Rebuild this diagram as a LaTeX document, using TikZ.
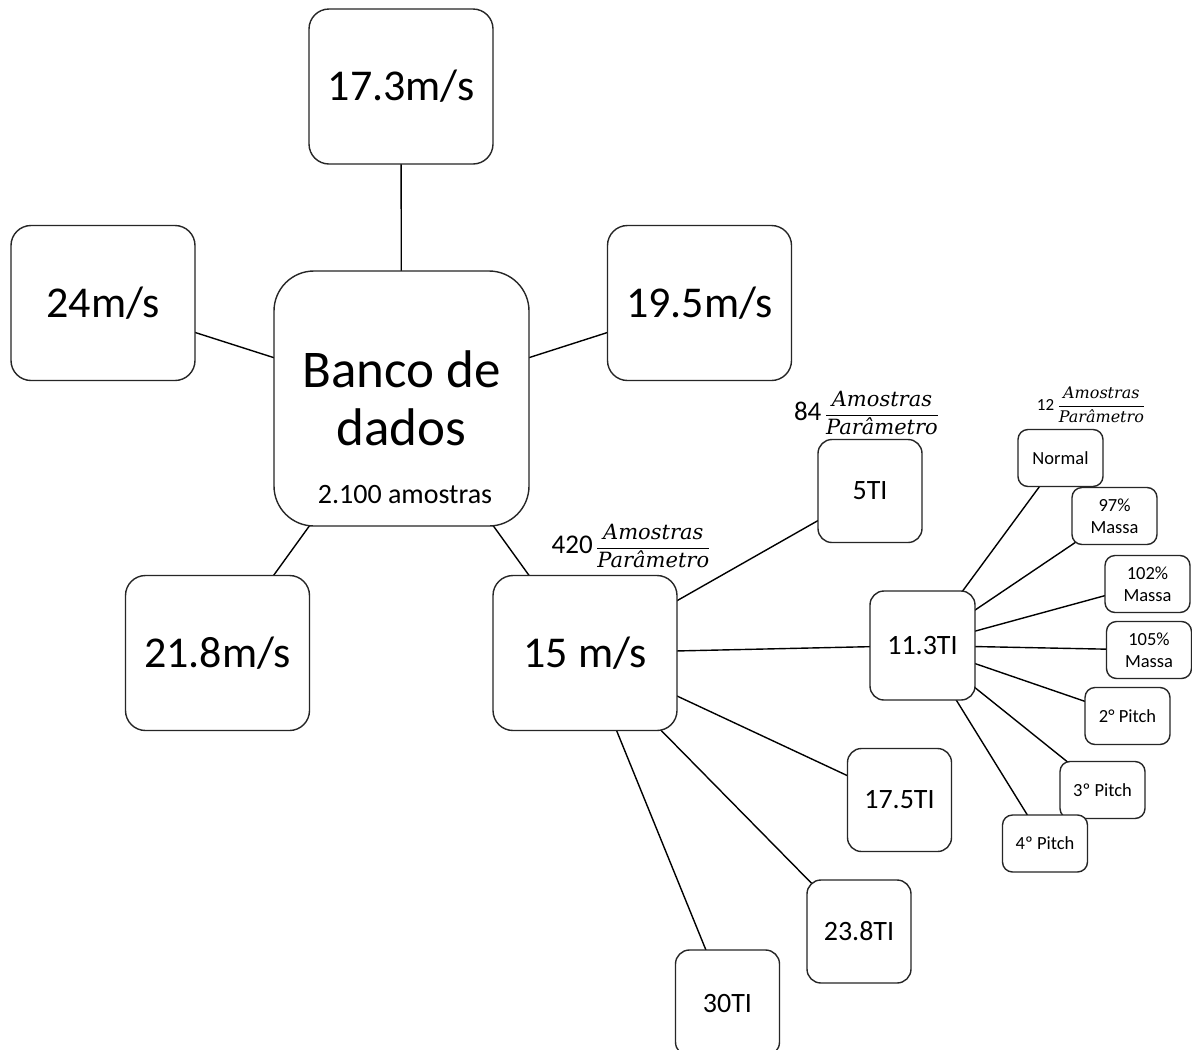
\documentclass[tikz,border=0pt]{standalone}
\usepackage{fontspec}
\setmainfont{Carlito}
\newfontfamily\fracfont{DejaVu Serif}
\usetikzlibrary{backgrounds}

% size helper
\newcommand{\fs}[2]{\fontsize{#1}{#2}\selectfont}
% "N amostras / parametro" ratio label
\newcommand{\frtxt}[1]{\hbox{\fracfont\itshape #1}}
\newcommand{\ratiolabel}[3]{{\fs{#2}{#2}#1}\hspace{0.35em}{\fs{#3}{#3}$\displaystyle\frac{\frtxt{Amostras}}{\frtxt{Parâmetro}}$}}

\tikzset{
  x=1pt, y=-1pt,
  box/.style={draw=black!85, line width=1.4pt, fill=white, rounded corners=#1,
              inner sep=0pt, align=center},
  bigbox/.style={box=20pt, minimum width=184pt, minimum height=155pt, font=\fs{44}{52}},
  midbox/.style={box=14pt, minimum width=104pt, minimum height=103pt, font=\fs{28}{32}},
  smallbox/.style={box=10pt, minimum width=85pt, minimum height=57pt, font=\fs{18.5}{22}},
  link/.style={draw=black, line width=1.4pt},
  ratio/.style={inner sep=0pt}
}

\begin{document}
\begin{tikzpicture}
\useasboundingbox (0,0) rectangle (1192,1050);

% central database and wind speeds
\node[box=40pt, minimum width=255pt, minimum height=255pt, font=\fs{53}{58}] (db) at (401.5,398.5) {Banco de\\dados};
\node[font=\fs{28}{32}, anchor=base] (dbn) at (405,503) {2.100 amostras};
\node[bigbox] (v173) at (401,86.5) {17.3m/s};
\node[bigbox] (v24) at (103,303) {24m/s};
\node[bigbox] (v195) at (699.5,303) {19.5m/s};
\node[bigbox] (v218) at (217.5,653) {21.8m/s};
\node[bigbox] (v15) at (585,653) {15 m/s};

% turbulence intensities
\node[midbox] (t5) at (870,491) {5TI};
\node[midbox, minimum width=105pt, minimum height=109pt] (t113) at (922.5,645.5) {11.3TI};
\node[midbox] (t175) at (899.5,800) {17.5TI};
\node[midbox] (t238) at (859,931.5) {23.8TI};
\node[midbox, minimum height=106pt] (t30) at (727.5,1003) {30TI};

% parameter variations
\node[smallbox] (nor) at (1060.5,458) {Normal};
\node[smallbox] (m97) at (1114.5,516) {97\%\\Massa};
\node[smallbox] (m102) at (1147.5,584) {102\%\\Massa};
\node[smallbox] (m105) at (1149,650) {105\%\\Massa};
\node[smallbox] (p2) at (1127.5,716) {2° Pitch};
\node[smallbox] (p3) at (1102.5,790) {3º Pitch};
\node[smallbox] (p4) at (1045,843.5) {4º Pitch};

% sample counts
\node[ratio] (r420) at (631,546) {\ratiolabel{420}{27}{21}};
\node[ratio] (r84) at (866.5,413) {\ratiolabel{84}{27}{21}};
\node[ratio] (r12) at (1091,405) {\ratiolabel{12}{17}{16}};

\begin{scope}[on background layer]
  \fill[white] (0,0) rectangle (1192,1050);
  \foreach \n in {v173,v24,v195,v218,v15}
    \draw[link] (db.center) -- (\n.center);
  \foreach \n in {t5,t113,t175,t238,t30}
    \draw[link] (v15.center) -- (\n.center);
  \foreach \n in {nor,m97,m102,m105,p2,p3,p4}
    \draw[link] (t113.center) -- (\n.center);
\end{scope}
\end{tikzpicture}
\end{document}
